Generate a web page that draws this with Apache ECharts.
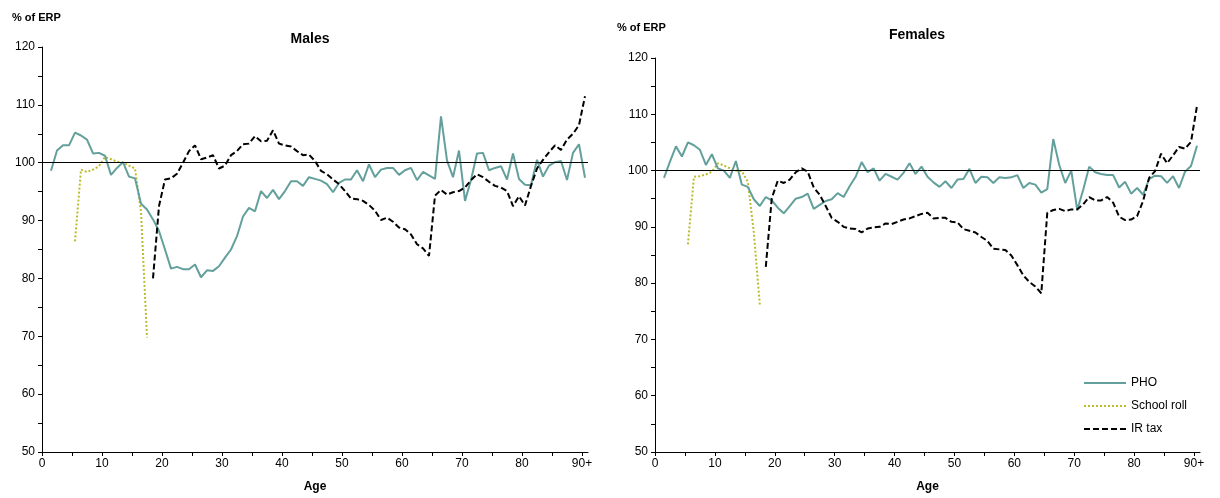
<!DOCTYPE html>
<html>
<head>
<meta charset="utf-8">
<script src="https://cdn.jsdelivr.net/npm/echarts@6/dist/echarts.min.js"></script>
<style>
html,body{margin:0;padding:0;background:#fff;}
#c{width:1220px;height:498px;}
</style>
</head>
<body>
<div id="c"></div>
<script>
// Ages 0 .. 90 (90 = "90+")
const ages = [0,1,2,3,4,5,6,7,8,9,10,11,12,13,14,15,16,17,18,19,20,21,22,23,24,25,26,27,28,29,30,
31,32,33,34,35,36,37,38,39,40,41,42,43,44,45,46,47,48,49,50,51,52,53,54,55,56,57,58,59,60,
61,62,63,64,65,66,67,68,69,70,71,72,73,74,75,76,77,78,79,80,81,82,83,84,85,86,87,88,89,90];
const xTickLabels = ['0','10','20','30','40','50','60','70','80','90+'];
const yTicks = [50,60,70,80,90,100,110,120];

// Males (index = age)
const malesPHO = [null,98.6,102.1,103,103,105.2,104.7,104,101.6,101.7,101.2,97.9,99.1,100.1,97.6,97.3,92.9,91.9,90.2,88.2,85,
81.7,82,81.6,81.6,82.4,80.2,81.4,81.3,82.1,83.6,85,87.3,90.7,92.2,91.6,95.1,93.9,95.3,93.7,95.1,
96.8,96.8,96,97.5,97.2,96.9,96.3,94.9,96.5,97.1,97.1,98.7,96.8,99.7,97.5,98.8,99.1,99.1,97.9,98.7,
99.1,97,98.4,97.8,97.2,108,100.4,97.5,102.1,93.4,97,101.6,101.7,98.7,99.1,99.4,97.1,101.6,97.2,96.2,
96.1,100.5,97.6,99.5,100.1,100.3,97,101.7,103.2,97.4];
const malesSchoolAges = [5,6,7,8,9,10,11,12,13,14,15,16,17];
const malesSchool = [86.4,98.8,98.4,98.8,99.4,101,100.6,100.2,100,99.5,99,91.5,69.8];
const malesIRAges = [18,19,20,21,22,23,24,25,26,27,28,29,30,31,32,33,34,35,36,37,38,39,40,41,42,43,44,45,46,47,48,49,50,
51,52,53,54,55,56,57,58,59,60,61,62,63,64,65,66,67,68,69,70,71,72,73,74,75,76,77,78,79,80,81,82,83,84,85,86,87,88,89,90];
const malesIR = [80,92.5,97.1,97.3,98.1,100,102,103,100.6,100.9,101.3,99,99.5,101.3,102,103.2,103.3,104.6,103.7,103.8,105.6,
103.3,103,102.8,102,101.3,101.4,100.3,98.6,98,97.1,96.3,95.1,93.8,93.7,93.4,92.7,91.7,90.1,90.5,89.8,88.8,88.5,
87.6,85.9,85.2,83.9,94.3,95.3,94.5,94.9,95.1,95.7,97,98,97.5,96.7,96,95.7,95.1,92.5,94.2,92.6,96,99,100.5,101.8,
103,102.2,104,105,106.5,111.5];

// Females (index = age)
const femalesPHO = [null,98.7,101.6,104.3,102.5,105,104.5,103.7,101,102.9,100.4,100,98.7,101.7,97.5,97.1,94.9,93.7,95.3,94.7,93.4,
92.4,93.7,95,95.3,95.9,93.2,93.9,94.6,94.9,96,95.3,97.2,98.9,101.5,99.7,100.4,98.2,99.4,98.9,98.4,
99.6,101.3,99.4,100.7,98.9,97.9,97.1,98.1,96.9,98.4,98.5,100.3,97.8,98.9,98.8,97.8,98.8,98.7,98.8,99.2,
96.9,97.8,97.5,96.1,96.7,105.6,101,97.8,100,93,96.6,100.7,99.7,99.4,99.2,99.2,97,98,95.9,96.9,
95.7,98.5,99.1,99,97.8,99,96.9,99.8,100.8,104.4];
const femalesSchoolAges = [5,6,7,8,9,10,11,12,13,14,15,16,17];
const femalesSchool = [86.9,98.9,99,99.3,99.8,101.3,100.9,100.4,100,99.9,98,89,76.2];
const femalesIRAges = malesIRAges;
const femalesIR = [82.9,95.1,98.2,97.8,98.4,99.7,100.4,99.8,97,95.7,93.7,91.6,90.9,90,89.7,89.6,89,89.7,89.9,90,90.6,
90.5,90.9,91.3,91.5,91.9,92.3,92.5,91.5,91.6,91.6,90.9,90.8,89.6,89.3,89,88.2,87.5,86.1,86,85.9,84.9,83.2,
81.4,80.2,79.4,78.2,92.5,93,93.2,92.8,93.1,93.1,94,95.3,94.7,94.7,95.3,94.3,91.8,91.2,91.3,91.9,94.6,98.7,
99.9,103,101.3,102.7,104.2,103.9,105.1,111.5];

const FONT = 'Liberation Sans, Arial, sans-serif';
const PHO_COLOR = '#63a09c';
const SCHOOL_COLOR = '#bcbc2a';
const IR_COLOR = '#000000';

// Each age occupies one unit band; points sit in the middle of their band.
function pairs(agesArr, vals) {
  const out = [];
  for (let i = 0; i < vals.length; i++) {
    if (vals[i] !== null && vals[i] !== undefined) out.push([agesArr[i] + 0.5, vals[i]]);
  }
  return out;
}

function xAxisCfg(gridIndex) {
  const tickVals = [];
  for (let v = 0; v <= 90; v += 5) tickVals.push(v);
  const labelVals = [];
  for (let i = 0; i < xTickLabels.length; i++) labelVals.push(i * 10);
  return {
    type: 'value', gridIndex: gridIndex, min: 0, max: 91, interval: 10,
    name: 'Age', nameLocation: 'middle', nameGap: 29,
    nameTextStyle: {fontFamily: FONT, fontSize: 12, fontWeight: 'bold', color: '#000'},
    axisLine: {show: true, onZero: false, lineStyle: {color: '#000', width: 1}},
    axisTick: {show: true, length: 4, customValues: tickVals, lineStyle: {color: '#000'}},
    axisLabel: {customValues: labelVals, fontFamily: FONT, fontSize: 12, color: '#000', margin: 6,
      formatter: function (v) { const i = Math.round(v / 10); return xTickLabels[i] || ''; }},
    splitLine: {show: false}
  };
}
function yAxisCfg(gridIndex) {
  const tickVals = [];
  for (let v = 50; v <= 120; v += 5) tickVals.push(v);
  return {
    type: 'value', gridIndex: gridIndex, min: yTicks[0], max: yTicks[yTicks.length - 1], interval: 10,
    axisLine: {show: true, lineStyle: {color: '#000', width: 1}},
    axisTick: {show: true, length: 4, customValues: tickVals, lineStyle: {color: '#000'}},
    axisLabel: {customValues: yTicks, fontFamily: FONT, fontSize: 12, color: '#000', margin: 7},
    splitLine: {show: false}
  };
}
function seriesFor(gi, pho, school, schoolAges, ir, irAges) {
  return [
    {name: 'PHO', type: 'line', xAxisIndex: gi, yAxisIndex: gi, data: pairs(ages, pho),
      symbol: 'none', lineStyle: {color: PHO_COLOR, width: 2}, itemStyle: {color: PHO_COLOR},
      markLine: {silent: true, symbol: 'none', label: {show: false}, animation: false,
        lineStyle: {color: '#000', width: 1, type: 'solid'}, data: [{yAxis: 100}]}, z: 3},
    {name: 'School roll', type: 'line', xAxisIndex: gi, yAxisIndex: gi, data: pairs(schoolAges, school),
      symbol: 'none', lineStyle: {color: SCHOOL_COLOR, width: 2, type: [2, 2]}, itemStyle: {color: SCHOOL_COLOR}, z: 2},
    {name: 'IR tax', type: 'line', xAxisIndex: gi, yAxisIndex: gi, data: pairs(irAges, ir),
      symbol: 'none', lineStyle: {color: IR_COLOR, width: 2, type: [6, 3]}, itemStyle: {color: IR_COLOR}, z: 4}
  ];
}

const chart = echarts.init(document.getElementById('c'), null, {renderer: 'canvas'});
chart.setOption({
  backgroundColor: '#fff',
  animation: false,
  title: [
    {text: 'Males', left: 310, top: 32, textAlign: 'center', padding: 0,
      textStyle: {fontFamily: FONT, fontSize: 14, fontWeight: 'bold', color: '#000'}},
    {text: 'Females', left: 917, top: 28, textAlign: 'center', padding: 0,
      textStyle: {fontFamily: FONT, fontSize: 14, fontWeight: 'bold', color: '#000'}},
    {text: '% of ERP', left: 12, top: 12, padding: 0,
      textStyle: {fontFamily: FONT, fontSize: 11, fontWeight: 'bold', color: '#000'}},
    {text: '% of ERP', left: 617, top: 22, padding: 0,
      textStyle: {fontFamily: FONT, fontSize: 11, fontWeight: 'bold', color: '#000'}}
  ],
  legend: {
    data: ['PHO', 'School roll', 'IR tax'], orient: 'vertical', left: 1083, top: 377,
    itemWidth: 42, itemHeight: 14, itemGap: 11, padding: 0,
    itemStyle: {opacity: 0},
    textStyle: {fontFamily: FONT, fontSize: 12, color: '#000'}
  },
  grid: [
    {left: 42, top: 47, width: 546, height: 406, containLabel: false},
    {left: 655, top: 58, width: 545, height: 399, containLabel: false}
  ],
  xAxis: [xAxisCfg(0), xAxisCfg(1)],
  yAxis: [yAxisCfg(0), yAxisCfg(1)],
  series: [].concat(
    seriesFor(0, malesPHO, malesSchool, malesSchoolAges, malesIR, malesIRAges),
    seriesFor(1, femalesPHO, femalesSchool, femalesSchoolAges, femalesIR, femalesIRAges)
  )
});
</script>
</body>
</html>
